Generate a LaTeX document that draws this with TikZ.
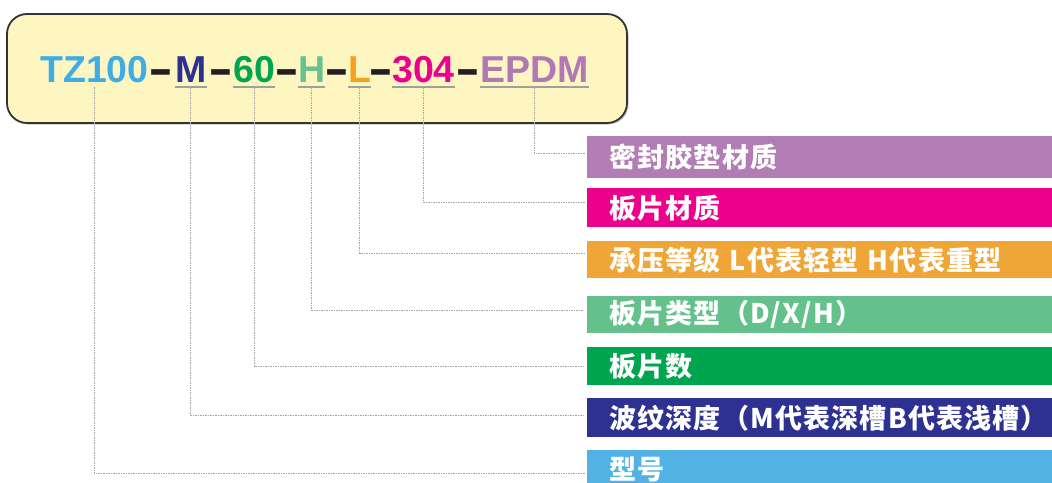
\documentclass[tikz,border=0pt]{standalone}
\usepackage{fontspec}
\setmainfont{Liberation Sans}
\newfontfamily\cjk[LetterSpace=4.5]{Noto Sans CJK SC}
\definecolor{cTZ}{HTML}{3FADE5}
\definecolor{cM}{HTML}{2B3190}
\definecolor{cSix}{HTML}{00A551}
\definecolor{cH}{HTML}{67C28F}
\definecolor{cL}{HTML}{F5A11F}
\definecolor{cMag}{HTML}{EC008C}
\definecolor{cEP}{HTML}{B079B5}
\definecolor{bEP}{HTML}{B27CB4}
\definecolor{bMag}{HTML}{EC008C}
\definecolor{bL}{HTML}{F0A637}
\definecolor{bH}{HTML}{65C18B}
\definecolor{bSix}{HTML}{00A54F}
\definecolor{bM}{HTML}{2E3192}
\definecolor{bTZ}{HTML}{52B2E3}
\definecolor{boxfill}{HTML}{FDF6C1}
\definecolor{dashc}{HTML}{231F20}
\newcommand{\heavydash}{\raisebox{-5pt}{\scalebox{1}[1.5]{–}}}
\tikzset{
  code/.style={anchor=base west, inner sep=0pt, font=\fontsize{37.5}{40}\selectfont\bfseries},
  uline/.style={draw=gray!75, line width=1.5pt},
  conn/.style={draw=gray!70, line width=1pt, dash pattern=on 1.5pt off 1pt},
  bar/.style={anchor=north west, minimum width=470pt, text width=430pt, inner xsep=22pt, inner ysep=0pt,
    align=left, text=white, font=\cjk\fontsize{27}{29}\selectfont\bfseries}
}
\begin{document}
\begin{tikzpicture}[x=1pt,y=-1pt]
\useasboundingbox (0,0) rectangle (1052,482);
\clip (0,0) rectangle (1052,482);
\fill[white] (0,0) rectangle (1052,482);
% top box
\fill[gray!45, rounded corners=20pt] (8.5,15.5) rectangle (628.5,124.5);
\draw[fill=boxfill, draw=black!80, line width=1.8pt, rounded corners=20pt] (7,14) rectangle (627,123);
% code text
\node[code, text=cTZ] (nTZ) at (40,82) {TZ100};
\node[code, text=dashc] (d1) at (150,82) {\heavydash};
\node[code, text=cM] (nM) at (175,82) {M};
\node[code, text=dashc] (d2) at (210,82) {\heavydash};
\node[code, text=cSix] (nSix) at (233,82) {60};
\node[code, text=dashc] (d3) at (276,82) {\heavydash};
\node[code, text=cH] (nH) at (298,82) {H};
\node[code, text=dashc] (d4) at (326,82) {\heavydash};
\node[code, text=cL] (nL) at (348,82) {L};
\node[code, text=dashc] (d5) at (370,82) {\heavydash};
\node[code, text=cMag] (nMag) at (392,82) {304};
\node[code, text=dashc] (d6) at (457,82) {\heavydash};
\node[code, text=cEP] (nEP) at (480,82) {EPDM};
% underlines
\foreach \n in {nM,nSix,nH,nL,nMag,nEP}
  \draw[uline] ([yshift=-5pt]\n.base west) -- ([yshift=-5pt]\n.base east);
% bars
\node[bar, fill=bEP, minimum height=42pt] (b1) at (587,136) {密封胶垫材质};
\node[bar, fill=bMag, minimum height=39pt] (b2) at (587,188) {板片材质};
\node[bar, fill=bL, minimum height=37pt] (b3) at (587,241) {承压等级 L代表轻型 H代表重型};
\node[bar, fill=bH, minimum height=37pt] (b4) at (587,296) {板片类型（D/X/H）};
\node[bar, fill=bSix, minimum height=38pt] (b5) at (587,347) {板片数};
\node[bar, fill=bM, minimum height=39pt] (b6) at (587,398) {波纹深度（M代表深槽B代表浅槽）};
\node[bar, fill=bTZ, minimum height=38pt] (b7) at (587,450) {型号};
% connector ends
\coordinate (e1) at ([xshift=-2pt]b1.west |- 0,153);
\coordinate (e2) at ([xshift=-2pt]b2.west |- 0,202);
\coordinate (e3) at ([xshift=-2pt]b3.west |- 0,253);
\coordinate (e4) at ([xshift=-4pt]b4.west |- 0,310);
\coordinate (e5) at ([xshift=-2pt]b5.west |- 0,366);
\coordinate (e6) at ([xshift=-2pt]b6.west |- 0,415);
\coordinate (e7) at ([xshift=-2pt]b7.west |- 0,473);
% connectors
\draw[conn] ([yshift=-5pt]nEP.base) |- (e1);
\draw[conn] ([yshift=-5pt]nMag.base) |- (e2);
\draw[conn] ([yshift=-5pt]nL.base) |- (e3);
\draw[conn] ([yshift=-5pt]nH.base) |- (e4);
\draw[conn] ([yshift=-5pt]nSix.base) |- (e5);
\draw[conn] ([yshift=-5pt]nM.base) |- (e6);
\draw[conn] ([yshift=-5pt]nTZ.base) |- (e7);
\end{tikzpicture}
\end{document}
